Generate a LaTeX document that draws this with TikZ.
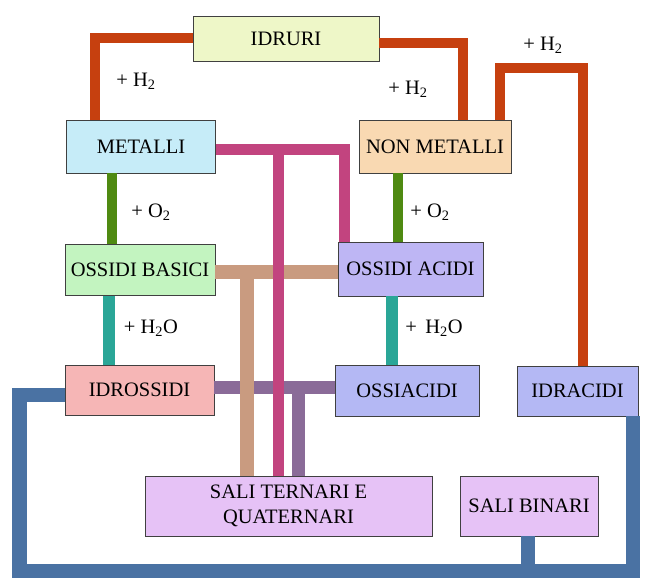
\documentclass[tikz,border=0pt]{standalone}
\usepackage{fontspec}
\setmainfont{Liberation Serif}
\usetikzlibrary{positioning}

\definecolor{idruriC}{HTML}{EEF7C8}
\definecolor{metalC}{HTML}{C6ECF8}
\definecolor{nonmetC}{HTML}{F9D9B2}
\definecolor{ossbasC}{HTML}{C3F4C0}
\definecolor{ossacC}{HTML}{BEB6F4}
\definecolor{idrossC}{HTML}{F6B6B6}
\definecolor{acidiC}{HTML}{B4B8F4}
\definecolor{saliC}{HTML}{E6C2F6}
\definecolor{redE}{HTML}{C6400F}
\definecolor{greenE}{HTML}{4F8A12}
\definecolor{tealE}{HTML}{2AA697}
\definecolor{magE}{HTML}{C2447F}
\definecolor{tanE}{HTML}{C99B80}
\definecolor{purE}{HTML}{8A6B98}
\definecolor{blueE}{HTML}{4A72A3}

\begin{document}
\begin{tikzpicture}[x=0.03cm, y=-0.03cm]
        \useasboundingbox (0,0) rectangle (647,577);
        \tikzstyle{every node}=[draw=black!75, thin, inner sep=0pt, align=center,
                font=\fontsize{17.5}{21}\selectfont]

        % Boxes
        \node[fill=idruriC, minimum width=5.58cm, minimum height=1.35cm] (idruri) at (286,39) {IDRURI};
        \node[fill=metalC, minimum width=4.47cm, minimum height=1.59cm] (metalli) at (141,146.5) {METALLI};
        \node[fill=nonmetC, minimum width=4.56cm, minimum height=1.59cm] (nonmet) at (435,146.5) {NON METALLI};
        \node[fill=ossbasC, minimum width=4.5cm, minimum height=1.53cm] (ossbas) at (140,270) {OSSIDI BASICI};
        \node[fill=ossacC, minimum width=4.35cm, minimum height=1.62cm] (ossac) at (410.5,269) {OSSIDI ACIDI};
        \node[fill=idrossC, minimum width=4.47cm, minimum height=1.5cm] (idross) at (139.5,390) {IDROSSIDI};
        \node[fill=acidiC, minimum width=4.32cm, minimum height=1.53cm] (ossiac) at (407,390.5) {OSSIACIDI};
        \node[fill=acidiC, minimum width=3.63cm, minimum height=1.5cm] (idrac) at (577.5,391) {IDRACIDI};
        \node[fill=saliC, minimum width=8.61cm, minimum height=1.8cm] (saliter) at (288.5,506) {SALI TERNARI E\\QUATERNARI};
        \node[fill=saliC, minimum width=4.14cm, minimum height=1.8cm] (salibin) at (529,506) {SALI BINARI};

        \tikzstyle{every node}=[font=\fontsize{17.5}{21}\selectfont]

        % Labels
        \node (lh1) at (136,81) {+ H\textsubscript{2}};
        \node (lh2) at (408,89) {+ H\textsubscript{2}};
        \node (lh3) at (543,45) {+ H\textsubscript{2}};
        \node (lo1) at (151,212) {+ O\textsubscript{2}};
        \node (lo2) at (430,212) {+ O\textsubscript{2}};
        \node (lw1) at (151,328) {+ H\textsubscript{2}O};
        \node (lw2) at (434,328) {+\, H\textsubscript{2}O};

        % Bends
        \coordinate (hA) at (95,38);
        \coordinate (hB) at (463,43);
        \coordinate (hC) at (500,68);
        \coordinate (hD) at (583,68);
        \coordinate (oA) at (112,0);
        \coordinate (oB) at (398,0);
        \coordinate (wA) at (109,0);
        \coordinate (wB) at (392,0);
        \coordinate (tA) at (247,272);
        \coordinate (mA) at (344.5,149.5);
        \coordinate (mB) at (278.5,149.5);
        \coordinate (pA) at (298.5,387.5);
        \coordinate (bA) at (19.5,394.5);
        \coordinate (bB) at (19.5,571);
        \coordinate (bC) at (633,571);
        \coordinate (bD) at (527.5,571);

        % Edges
        \tikzstyle{edge} = [draw, line width=0.32cm]

        \draw[edge, redE] (idruri.west |- hA) -- (hA) -- (hA |- metalli.north);
        \draw[edge, redE] (idruri.east |- hB) -- (hB) -- (hB |- nonmet.north);
        \draw[edge, redE] (hC |- nonmet.north) -- (hC) -- (hD) -- (hD |- idrac.north);

        \draw[edge, greenE] (oA |- metalli.south) -- (oA |- ossbas.north);
        \draw[edge, greenE] (oB |- nonmet.south) -- (oB |- ossac.north);

        \draw[edge, tealE, line width=0.38cm] (wA |- ossbas.south) -- (wA |- idross.north);
        \draw[edge, tealE, line width=0.38cm] (wB |- ossac.south) -- (wB |- ossiac.north);

        % salts: purple under tan under magenta
        \draw[edge, purE, line width=0.4cm] (idross.east |- pA) -- (ossiac.west |- pA);
        \draw[edge, purE, line width=0.4cm] (pA) -- (pA |- saliter.north);
        \draw[edge, tanE, line width=0.4cm] (ossbas.east |- tA) -- (ossac.west |- tA);
        \draw[edge, tanE, line width=0.4cm] (tA) -- (tA |- saliter.north);
        \draw[edge, magE, line width=0.34cm] (metalli.east |- mA) -- (mA) -- (mA |- ossac.north);
        \draw[edge, magE, line width=0.34cm] (mB) -- (mB |- saliter.north);

        \draw[edge, blueE, line width=0.42cm] (idross.west |- bA) -- (bA) -- (bB) -- (bC) -- (bC |- idrac.south);
        \draw[edge, blueE, line width=0.42cm] (bD |- salibin.south) -- (bD);

      \end{tikzpicture}
\end{document}
